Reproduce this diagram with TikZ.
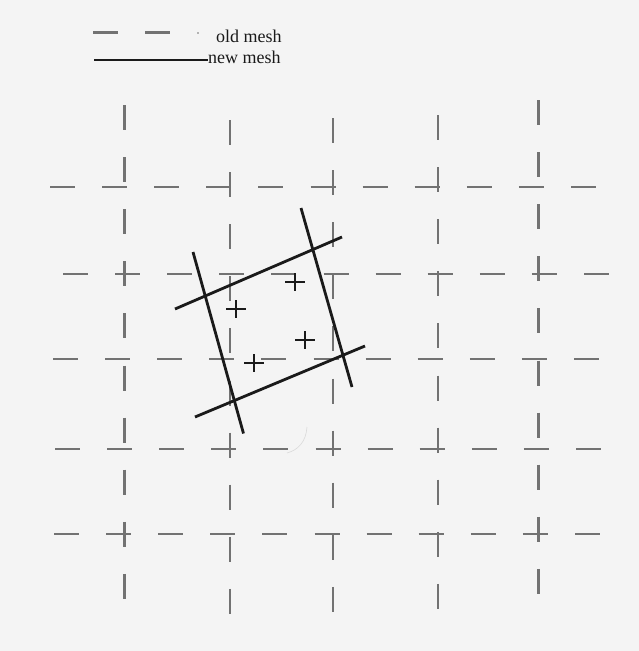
\documentclass[tikz,border=0pt]{standalone}
\usepackage{fontspec}
\setmainfont{Liberation Serif}
\definecolor{oldc}{HTML}{727272}
\definecolor{newc}{HTML}{1A1A1A}
\definecolor{bgc}{HTML}{F4F4F4}
\begin{document}
\begin{tikzpicture}[x=1pt,y=-1pt,
  oldline/.style={draw=oldc, line width=2.6pt, dash pattern=on 25pt off 27.1pt},
  newline/.style={draw=newc, line width=2.8pt},
  crossmark/.style={draw=newc, line width=2pt},
  lbl/.style={inner sep=0pt, anchor=base west, font=\fontsize{18}{20}\selectfont, text=newc}]
\fill[bgc] (0,0) rectangle (639,651);
\useasboundingbox (0,0) rectangle (639,651);

% old mesh: horizontal rows (11 dashes each)
\foreach \y/\s in {187/50, 274/63, 359/53, 449/55, 534/54}
  \draw[oldline] (\s,\y) -- ++(546,0);
% old mesh: vertical columns (10 dashes each)
\foreach \x/\s in {124.5/105, 230/120, 333/118, 438/115, 538.5/100}
  \draw[oldline] (\x,\s) -- ++(0,494);

% legend
\coordinate (o1) at (93,32.5);
\coordinate (o2) at (171,32.5);
\draw[oldline] (o1) -- (o2);
\fill[oldc] (198,33) circle (0.9pt);
\node[lbl] (oldlbl) at (216,42.7) {old mesh};
\coordinate (n1) at (94,60);
\node[lbl] (newlbl) at (208,63) {new mesh};
\draw[newline, line width=2.4pt] (n1) -- (newlbl.west |- n1);

% new mesh
\coordinate (a1) at (175,309);   \coordinate (a2) at (342,237);
\coordinate (b1) at (195,417);   \coordinate (b2) at (365,346);
\coordinate (c1) at (193,252);   \coordinate (c2) at (243.5,433.5);
\coordinate (d1) at (301,208);   \coordinate (d2) at (352,387);
\draw[newline] (a1) -- (a2);
\draw[newline] (b1) -- (b2);
\draw[newline] (c1) -- (c2);
\draw[newline] (d1) -- (d2);

% points (crosses)
\coordinate (p1) at (295,282);
\coordinate (p2) at (236,309);
\coordinate (p3) at (305,340);
\coordinate (p4) at (254,363);
\foreach \p in {p1,p2,p3,p4}
  \draw[crossmark] (\p) ++(-10,0) -- ++(20,0) (\p) ++(0,-9) -- ++(0,18);

% faint scan mark
\draw[gray!30, line width=0.6pt] (307,427) .. controls (306,442) and (298,450) .. (287,453);
\end{tikzpicture}
\end{document}
